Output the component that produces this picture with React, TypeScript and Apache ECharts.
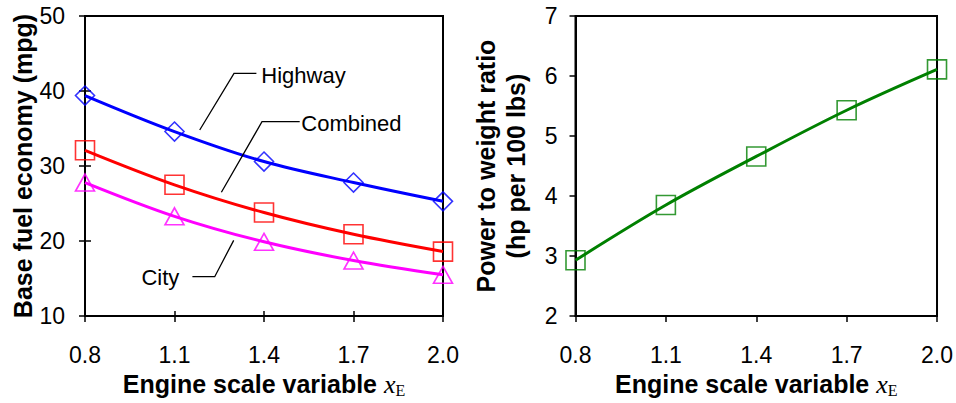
import React, { useEffect, useRef } from "react";
import * as echarts from "echarts";

// ---- data ----
const xValues = [0.8, 1.1, 1.4, 1.7, 2.0];
const highway = [39.4, 34.6, 30.6, 27.8, 25.3];
const combined = [32.1, 27.5, 23.8, 20.9, 18.6];
const city = [27.8, 23.3, 19.9, 17.4, 15.5];
const powerToWeight = [2.93, 3.85, 4.66, 5.43, 6.11];

// annotation labels with leader lines, in data coordinates of the left chart
const annotationLabels = ["Highway", "Combined", "City"];
const annotationTextAnchors = [
  [1.391, 42.1],
  [1.525, 35.7],
  [0.989, 15.2],
];
const annotationLeaders = [
  [[1.3745, 42.36], [1.2995, 42.36], [1.1845, 34.81]],
  [[1.5197, 35.91], [1.3933, 35.91], [1.2572, 26.51]],
  [[1.16, 15.25], [1.2348, 15.25], [1.2984, 20.1]],
];

const SANS = '"Liberation Sans", Arial, sans-serif';
const SERIF = '"Liberation Serif", "Times New Roman", serif';

const pairs = (ys: number[]) => xValues.map((x, i) => [x, ys[i]]);

const xName = "{t|Engine scale variable }{x|x}{e|E}";
const xNameStyle = {
  rich: {
    t: { fontFamily: SANS, fontWeight: "bold", fontSize: 25, color: "#000", lineHeight: 28 },
    x: { fontFamily: SERIF, fontStyle: "italic", fontSize: 26, color: "#000", lineHeight: 28 },
    e: { fontFamily: SERIF, fontSize: 16, color: "#000", lineHeight: 14, verticalAlign: "bottom" },
  },
};

function xAxisMain(gridIndex: number) {
  return {
    gridIndex,
    type: "value",
    min: 0.8,
    max: 2.0,
    axisLine: { show: true, lineStyle: { color: "#000", width: 2 } },
    axisTick: { show: true, customValues: xValues, length: 6, lineStyle: { color: "#000", width: 1.5 } },
    axisLabel: {
      customValues: xValues,
      formatter: (v: number) => v.toFixed(1),
      fontFamily: SANS,
      fontSize: 23,
      color: "#000",
      margin: 27,
    },
    splitLine: { show: false },
    name: xName,
    nameLocation: "middle",
    nameGap: 51,
    nameTextStyle: xNameStyle,
  };
}

function lineSeries(data: number[], color: string, xi: number, yi: number) {
  return {
    type: "line",
    xAxisIndex: xi,
    yAxisIndex: yi,
    data: pairs(data),
    smooth: 0.35,
    symbol: "none",
    lineStyle: { color, width: 3 },
    z: 3,
  };
}

function markerSeries(data: number[], color: string, symbol: string, xi: number, yi: number) {
  return {
    type: "scatter",
    xAxisIndex: xi,
    yAxisIndex: yi,
    data: pairs(data),
    symbol,
    symbolSize: symbol === "triangle" ? [19, 17] : [19, 19],
    itemStyle: { color: "rgba(0,0,0,0)", borderColor: color, borderWidth: 1.6 },
    z: 4,
  };
}

export default function App() {
  const ref = useRef<HTMLDivElement>(null);
  useEffect(() => {
    if (!ref.current) return;
    const chart = echarts.init(ref.current, undefined, { renderer: "svg" });
    const option: any = {
      animation: false,
      backgroundColor: "#fff",
      grid: [
        { left: 85, top: 16, width: 358, height: 305, show: true, borderColor: "#000", borderWidth: 2, backgroundColor: "transparent" },
        { left: 575.5, top: 16, width: 363, height: 306, show: true, borderColor: "#000", borderWidth: 2, backgroundColor: "transparent" },
      ],
      xAxis: [
        xAxisMain(0),
        {
          gridIndex: 0,
          type: "value",
          min: 0.8,
          max: 2.0,
          position: "bottom",
          axisLine: { show: false },
          axisTick: { show: true, inside: true, customValues: xValues, length: 5, lineStyle: { color: "#000", width: 1.5 } },
          axisLabel: { show: false },
          splitLine: { show: false },
        },
        xAxisMain(1),
      ],
      yAxis: [
        {
          gridIndex: 0,
          type: "value",
          min: 10,
          max: 50,
          interval: 10,
          axisLine: { show: true, lineStyle: { color: "#000", width: 2 } },
          axisTick: { show: true, length: 6, lineStyle: { color: "#000", width: 1.5 } },
          axisLabel: { fontFamily: SANS, fontSize: 23, color: "#000", margin: 20 },
          splitLine: { show: false },
          name: "Base fuel economy (mpg)",
          nameLocation: "middle",
          nameGap: 48,
          nameTextStyle: { fontFamily: SANS, fontWeight: "bold", fontSize: 25, color: "#000" },
        },
        {
          gridIndex: 0,
          type: "value",
          min: 10,
          max: 50,
          interval: 10,
          position: "left",
          axisLine: { show: false },
          axisTick: { show: true, inside: true, length: 6, lineStyle: { color: "#000", width: 1.5 } },
          axisLabel: { show: false },
          splitLine: { show: false },
        },
        {
          gridIndex: 1,
          type: "value",
          min: 2,
          max: 7,
          interval: 1,
          axisLine: { show: true, lineStyle: { color: "#000", width: 2 } },
          axisTick: { show: true, length: 6, lineStyle: { color: "#000", width: 1.5 } },
          axisLabel: { fontFamily: SANS, fontSize: 23, color: "#000", margin: 18 },
          splitLine: { show: false },
          name: "Power to weight ratio\n(hp per 100 lbs)",
          nameLocation: "middle",
          nameGap: 45,
          nameTextStyle: { fontFamily: SANS, fontWeight: "bold", fontSize: 25, color: "#000", lineHeight: 30 },
        },
      ],
      series: [
        lineSeries(highway, "#0000ff", 0, 0),
        lineSeries(combined, "#ff0000", 0, 0),
        lineSeries(city, "#ff00ff", 0, 0),
        markerSeries(highway, "#0000ff", "diamond", 0, 0),
        markerSeries(combined, "#ff0000", "rect", 0, 0),
        markerSeries(city, "#ff00ff", "triangle", 0, 0),
        lineSeries(powerToWeight, "#008000", 2, 2),
        markerSeries(powerToWeight, "#008000", "rect", 2, 2),
      ],
    };
    chart.setOption(option);

    const toPx = (p: number[]) => chart.convertToPixel({ gridIndex: 0 }, p) as number[];
    const graphics: any[] = [];
    annotationLabels.forEach((label, i) => {
      const [tx, ty] = toPx(annotationTextAnchors[i]);
      graphics.push({
        type: "text",
        x: tx,
        y: ty,
        style: { text: label, font: `22px ${SANS}`, fill: "#000", textAlign: "left", textVerticalAlign: "middle", verticalAlign: "middle" },
        z: 10,
      });
      graphics.push({
        type: "polyline",
        shape: { points: annotationLeaders[i].map(toPx) },
        style: { stroke: "#000", lineWidth: 1.3, fill: null },
        z: 10,
      });
    });
    chart.setOption({ graphic: graphics });

    return () => chart.dispose();
  }, []);
  return (
    <div
      ref={ref}
      style={{ position: "fixed", left: 0, top: 0, width: 956, height: 403, background: "#fff" }}
    />
  );
}
